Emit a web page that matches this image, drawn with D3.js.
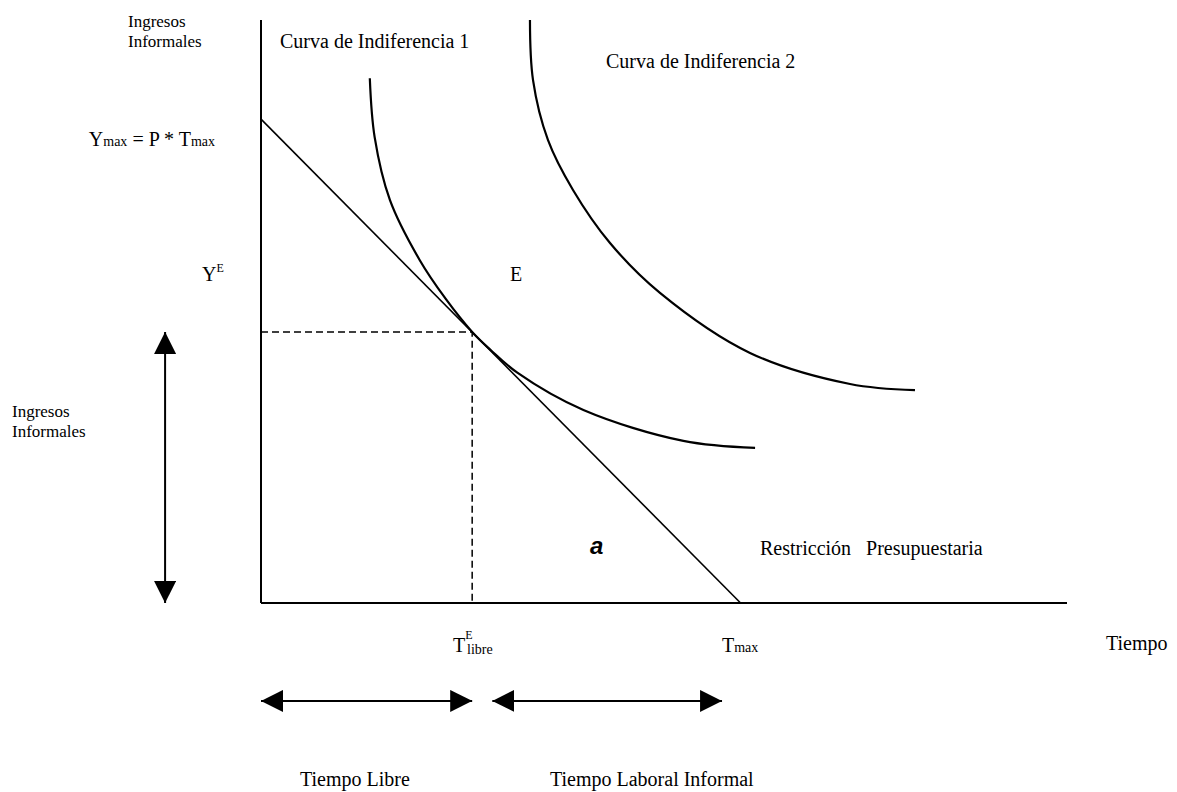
<!DOCTYPE html>
<html>
<head>
<meta charset="utf-8">
<script src="https://cdn.jsdelivr.net/npm/d3@7/dist/d3.min.js"></script>
<style>
  html, body { margin: 0; padding: 0; background: #fff; }
  svg { display: block; font-family: "Liberation Serif", "Times New Roman", serif; }
  text { fill: #000; white-space: pre; font-family: "Liberation Serif", "Times New Roman", serif; }
</style>
</head>
<body>
<div id="chart"></div>
<script>
// --- DONNÉES (unités du modèle : temps 0..100, revenu 0..100) ---
const T_MAX = 59.5;          // temps total disponible
const Y_MAX = 83;            // revenu max = P * T_max
const T_E = 26.2;            // temps libre à l'équilibre
const Y_E = 46.5;            // revenu à l'équilibre

const budget = [{ t: 0, y: Y_MAX }, { t: T_MAX, y: 0 }];

const curva1 = [
  { t: 13.5, y: 90.0 }, { t: 14.1, y: 79.9 }, { t: 16.0, y: 69.1 }, { t: 19.7, y: 58.8 },
  { t: 22.9, y: 52.2 }, { t: 26.2, y: 46.5 }, { t: 28.5, y: 43.4 }, { t: 31.8, y: 39.5 },
  { t: 40.0, y: 33.1 }, { t: 52.4, y: 27.8 }, { t: 61.3, y: 26.6 }
];

const curva2 = [
  { t: 33.37, y: 100 }, { t: 33.75, y: 89.7 }, { t: 35.61, y: 79.4 }, { t: 38.71, y: 70.85 },
  { t: 43.3, y: 61.75 }, { t: 49.5, y: 53.2 }, { t: 60.67, y: 42.9 }, { t: 73.08, y: 37.56 },
  { t: 81.14, y: 36.5 }
];

// flèches doubles (horizontales : intervalles de temps ; verticale : revenu)
const flechesH = [{ from: 0, to: T_E }, { from: 28.7, to: 57.2 }];
const flechesHy = -16.8;
const flecheV = { t: -11.9, from: Y_E, to: 0 };

const W = 1177, H = 792;
const x = d3.scaleLinear().domain([0, 100]).range([261, 1067]);
const y = d3.scaleLinear().domain([0, 100]).range([603, 20]);

const svg = d3.select("#chart").append("svg")
  .attr("width", W).attr("height", H).attr("viewBox", [0, 0, W, H]);

// marqueur flèche
svg.append("defs").append("marker")
  .attr("id", "head")
  .attr("markerUnits", "userSpaceOnUse")
  .attr("markerWidth", 22).attr("markerHeight", 22)
  .attr("viewBox", "0 -10 20 20")
  .attr("refX", 20).attr("refY", 0)
  .attr("orient", "auto-start-reverse")
  .append("path").attr("d", "M0,-10L20,0L0,10Z").attr("fill", "#000");

// axes
svg.append("line")
  .attr("x1", x(0)).attr("x2", x(0)).attr("y1", y(100)).attr("y2", y(0))
  .attr("stroke", "#000").attr("stroke-width", 2);
svg.append("line")
  .attr("x1", x(0)).attr("x2", x(100)).attr("y1", y(0)).attr("y2", y(0))
  .attr("stroke", "#000").attr("stroke-width", 2);

// pointillés vers l'équilibre
svg.append("path")
  .attr("d", d3.line()([[x(0), y(Y_E)], [x(T_E), y(Y_E)], [x(T_E), y(0)]]))
  .attr("fill", "none").attr("stroke", "#000").attr("stroke-width", 1.5)
  .attr("stroke-dasharray", "7,4");

// restriction budgétaire
const line = d3.line().x(d => x(d.t)).y(d => y(d.y));
svg.append("path").datum(budget)
  .attr("d", line).attr("fill", "none").attr("stroke", "#000").attr("stroke-width", 1.6);

// courbes d'indifférence
const curve = d3.line().x(d => x(d.t)).y(d => y(d.y)).curve(d3.curveCatmullRom.alpha(0.5));
[curva1, curva2].forEach(c => {
  svg.append("path").datum(c)
    .attr("d", curve).attr("fill", "none").attr("stroke", "#000").attr("stroke-width", 2.2);
});

// flèches
flechesH.forEach(f => {
  svg.append("line")
    .attr("x1", x(f.from)).attr("x2", x(f.to)).attr("y1", y(flechesHy)).attr("y2", y(flechesHy))
    .attr("stroke", "#000").attr("stroke-width", 2)
    .attr("marker-start", "url(#head)").attr("marker-end", "url(#head)");
});
svg.append("line")
  .attr("x1", x(flecheV.t)).attr("x2", x(flecheV.t)).attr("y1", y(flecheV.from)).attr("y2", y(flecheV.to))
  .attr("stroke", "#000").attr("stroke-width", 2)
  .attr("marker-start", "url(#head)").attr("marker-end", "url(#head)");

// --- TEXTES ---
function label(px, py, str, size, anchor) {
  return svg.append("text").attr("x", px).attr("y", py)
    .attr("font-size", size).attr("text-anchor", anchor || "start").text(str);
}

label(128, 27, "Ingresos", 17);
label(128, 47, "Informales", 17);
label(12, 417, "Ingresos", 17);
label(12, 437, "Informales", 17);

label(280, 48, "Curva de Indiferencia 1", 20);
label(606, 68, "Curva de Indiferencia 2", 20);
label(510, 281, "E", 20);
label(760, 555, "Restricción   Presupuestaria", 20);
label(1106, 650, "Tiempo", 20);
label(300, 786, "Tiempo Libre", 20);
label(550, 786, "Tiempo Laboral Informal", 20);

svg.append("text").attr("x", 590).attr("y", 554)
  .style("font-family", "'Liberation Sans', Arial, sans-serif")
  .attr("font-weight", "bold").attr("font-style", "italic")
  .attr("font-size", 24).text("a");

// Y_max = P * T_max
const ymax = svg.append("text").attr("x", 215).attr("y", 146).attr("text-anchor", "end").attr("font-size", 20);
ymax.append("tspan").text("Y");
ymax.append("tspan").attr("font-size", 14).text("max");
ymax.append("tspan").text(" = P * T");
ymax.append("tspan").attr("font-size", 14).text("max");

// Y^E
const ye = svg.append("text").attr("x", 202).attr("y", 281).attr("font-size", 20);
ye.append("tspan").text("Y");
ye.append("tspan").attr("font-size", 12).attr("dy", -9).text("E");

// T^E_libre
const te = svg.append("text").attr("x", 453).attr("y", 652).attr("font-size", 20);
te.append("tspan").text("T");
te.append("tspan").attr("font-size", 12).attr("dy", -13).text("E");
te.append("tspan").attr("font-size", 14).attr("x", 467).attr("dy", 15).text("libre");

// T_max
const tm = svg.append("text").attr("x", 722).attr("y", 652).attr("font-size", 20);
tm.append("tspan").text("T");
tm.append("tspan").attr("font-size", 14).text("max");
</script>
</body>
</html>
